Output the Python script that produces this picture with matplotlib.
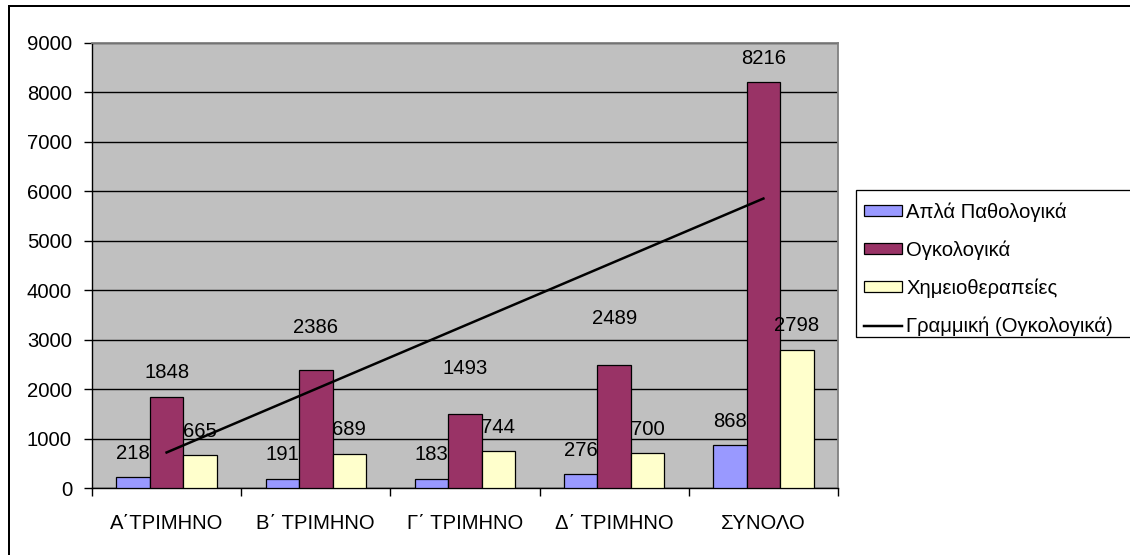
import numpy as np
import matplotlib
matplotlib.use("Agg")
import matplotlib.pyplot as plt
from matplotlib.lines import Line2D
from matplotlib.patches import Rectangle

plt.rcParams['font.family'] = ['Liberation Sans', 'DejaVu Sans']

categories = ["Α΄ΤΡΙΜΗΝΟ", "Β΄ ΤΡΙΜΗΝΟ", "Γ΄ ΤΡΙΜΗΝΟ", "Δ΄ ΤΡΙΜΗΝΟ", "ΣΥΝΟΛΟ"]
simple = [218, 191, 183, 276, 868]
oncology = [1848, 2386, 1493, 2489, 8216]
chemo = [665, 689, 744, 700, 2798]
series_names = ["Απλά Παθολογικά", "Ογκολογικά", "Χημειοθεραπείες"]
trend_name = "Γραμμική (Ογκολογικά)"
yticks = [0, 1000, 2000, 3000, 4000, 5000, 6000, 7000, 8000, 9000]

colors = ["#9999FF", "#993366", "#FFFFCC"]
# label offsets above bar tops (pixels), per series
label_off = [[24] * 5, [24, 43, 46, 46, 23], [24] * 5]

FS = 14.6
W, H = 1130, 555
fig = plt.figure(figsize=(W / 100, H / 100), dpi=100)
px = 72 / 100  # points per pixel

ax = fig.add_axes([92 / W, 1 - 488 / H, 746 / W, 445 / H])
ax.set_facecolor("#C0C0C0")

x = np.arange(len(categories))
bw = 0.2245
handles = []
for i, (vals, c) in enumerate(zip([simple, oncology, chemo], colors)):
    xs = x + (i - 1) * bw
    b = ax.bar(xs, vals, width=bw, color=c, edgecolor="black", linewidth=0.9, zorder=3,
               label=series_names[i])
    handles.append(b)
    for xi, v, off in zip(xs, vals, label_off[i]):
        ax.annotate(str(v), (xi, v), xytext=(0, off * px), textcoords="offset points",
                    ha="center", va="center", fontsize=FS, zorder=5, annotation_clip=False)

# linear trendline for oncology
coef = np.polyfit(x, oncology, 1)
tl, = ax.plot(x, np.polyval(coef, x), color="black", linewidth=2.5 * px, zorder=4,
              label=trend_name)
handles.append(tl)

ax.set_xlim(-0.5, len(categories) - 0.5)
ax.set_ylim(0, 9000)
ax.set_yticks(yticks)
ax.yaxis.grid(True, color="black", linewidth=1.0, zorder=1)
ax.set_axisbelow(True)

ax.set_xticks(np.arange(-0.5, len(categories)), labels=[])
ax.set_xticks(x, labels=categories, minor=True)
ax.tick_params(axis="x", which="major", length=8 * px, width=1, direction="out", color="black")
ax.tick_params(axis="x", which="minor", length=0, pad=26 * px, labelsize=FS)
ax.tick_params(axis="y", length=8 * px, width=1, direction="out", pad=12 * px, labelsize=FS)

for s in ["left", "bottom"]:
    ax.spines[s].set_color("black")
    ax.spines[s].set_linewidth(1.0)
for s in ["top", "right"]:
    ax.spines[s].set_color("#808080")
    ax.spines[s].set_linewidth(1.3)

# figure border (top and left visible)
fig.add_artist(Line2D([8.5 / W, 8.5 / W], [0, 1 - 5.5 / H], color="black", lw=2 * px,
                      transform=fig.transFigure))
fig.add_artist(Line2D([8.5 / W, 1], [1 - 5.5 / H, 1 - 5.5 / H], color="black", lw=2 * px,
                      transform=fig.transFigure))

# legend box
fig.add_artist(Rectangle((856 / W, 1 - 337 / H), (1140 - 856) / W, (337 - 190) / H,
                         transform=fig.transFigure, facecolor="white", edgecolor="black",
                         lw=1.3 * px, zorder=0))
leg = fig.legend(handles=handles, loc="upper left", bbox_to_anchor=(864 / W, 1 - 202 / H),
                 frameon=False, fontsize=FS, borderpad=0, borderaxespad=0,
                 handlelength=1.88, handleheight=0.42, handletextpad=0.2, labelspacing=0.92)

fig.savefig("out.png", dpi=100)
